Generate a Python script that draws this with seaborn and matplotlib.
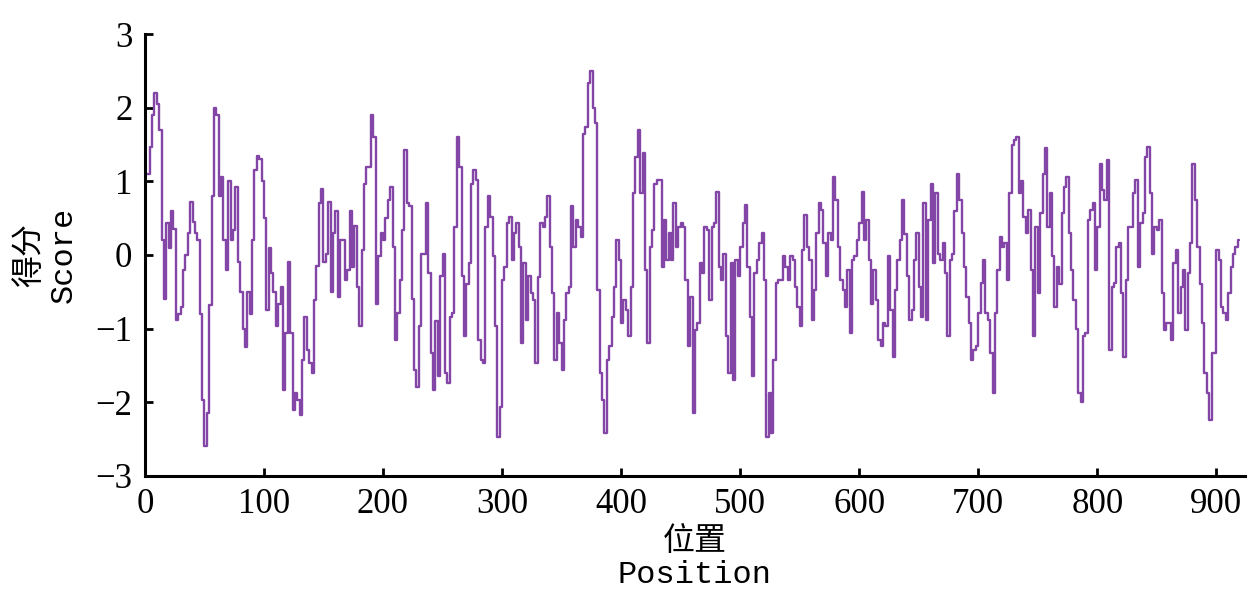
import numpy as np
import matplotlib
matplotlib.use('Agg')
import matplotlib.pyplot as plt
import seaborn as sns

# hydrophobicity score, every 2 residues (1, 3, 5, ... 919)
score_1_89 = [1.1, 1.1, 1.47, 1.9, 2.2, 2.05, 1.7, 0.2, -0.6, 0.43,
              0.1, 0.6, 0.35, -0.88, -0.8, -0.7, -0.2, 0, 0.3, 0.72,
              0.45, 0.3, 0.2, -0.8, -1.97, -2.6, -2.15, -0.68, 0.8, 2.0,
              1.9, 0.8, 1.06, 0.2, -0.2, 1.0, 0.2, 0.34, 0.93, -0.1,
              -0.5, -1.0, -1.25, -0.5, -0.8]
score_91_181 = [0.2, 1.15, 1.34, 1.3, 1.0, 0.5, -0.75, 0.1, -0.25, -0.5,
                -0.97, -0.66, -0.43, -1.83, -1.06, -0.1, -1.06, -2.1, -1.88, -1.97,
                -2.17, -1.43, -0.84, -1.29, -1.47, -1.6, -0.61, -0.15, 0.7, 0.9,
                -0.1, 0.02, 0.72, -0.5, 0.3, 0.6, -0.57, 0.2, 0.2, -0.34,
                -0.2, 0.6, -0.16, 0.4, -0.43, -0.97]
score_183_273 = [0.07, 0.97, 1.2, 1.2, 1.9, 1.6, -0.66, -0.02, 0.3, 0.2,
                 0.5, 0.75, 0.93, 0.11, -1.15, -0.79, -0.34, 0.34, 1.43, 0.7,
                 0.66, -0.6, -1.56, -1.79, -0.97, 0.02, 0.02, 0.7, -0.25, -1.33,
                 -1.83, -0.9, -1.65, -0.29, 0.02, -1.6, -1.74, -0.84, -0.79, 0.38,
                 1.6, 1.2, -0.29, -1.1, -0.4, -0.11]
score_275_365 = [0.97, 1.15, 1.02, -1.15, -1.43, -1.47, 0.38, 0.8, 0.52, -0.02,
                 -0.97, -2.47, -2.06, -0.34, -0.16, 0.43, 0.52, -0.07, 0.3, 0.43,
                 0.11, -1.2, -0.11, -0.88, -0.29, -0.52, -0.61, -1.47, -0.3, 0.43,
                 0.38, 0.52, 0.8, 0.11, -0.52, -1.43, -0.79, -1.2, -1.56, -0.88,
                 -0.52, -0.43, 0.66, 0.11, 0.47, 0.38]
score_367_457 = [0.25, 1.65, 1.74, 2.33, 2.5, 2.0, 1.79, -0.47, -1.6, -1.97,
                 -2.42, -1.43, -1.24, -0.84, -0.43, 0.2, -0.07, -0.93, -0.61, -0.75,
                 -1.1, -0.43, 0.84, 1.33, 1.7, 0.84, 1.38, -0.2, -1.2, 0.11,
                 0.34, 0.97, 1.02, 1.02, -0.16, 0.47, -0.07, 0.3, -0.07, 0.7,
                 0.11, 0.38, 0.43, 0.38, -0.34, -1.24]
score_459_551 = [-0.57, -2.15, -1.02, -0.93, -0.11, -0.25, 0.38, 0.34, -0.61, 0.38,
                 0.43, 0.86, -0.16, -0.34, 0.02, -1.1, -1.6, -0.11, -1.7, -0.07,
                 -0.29, 0.11, 0.43, 0.68, -0.16, -0.84, -1.65, -0.25, -0.07, 0.16,
                 0.3, -0.34, -2.47, -1.88, -2.42, -1.43, -0.38, -0.34, -0.34, -0.02,
                 -0.16, -0.34, -0.02, -0.07, -0.43, -0.7, -0.97]
score_553_643 = [0.07, 0.54, 0.11, -0.07, -0.88, -0.47, 0.3, 0.7, 0.61, 0.16,
                 -0.29, 0.3, 0.2, 1.06, 0.75, 0.11, -0.34, -0.47, -0.7, -0.2,
                 -1.06, -0.07, -0.02, 0.2, 0.43, 0.86, 0.2, 0.47, -0.07, -0.66,
                 -0.2, -0.61, -1.15, -1.24, -0.93, -0.97, -0.02, -0.75, -1.38, -0.47,
                 -0.07, 0.2, 0.75, 0.29, -0.29, -0.88]
score_645_735 = [-0.75, -0.07, 0.3, -0.43, -0.84, 0.7, -0.88, 0.47, 0.97, -0.11,
                 0.84, 0.02, -0.07, 0.16, -0.25, -1.1, -0.07, 0.02, 0.6, 1.1,
                 0.75, 0.3, -0.16, -0.57, -0.93, -1.43, -1.29, -1.24, -0.79, -0.38,
                 -0.07, -0.79, -0.88, -1.33, -1.88, -0.79, -0.2, 0.25, 0.11, 0.16,
                 -0.34, 0.84, 1.5, 1.56, 1.6, 0.84]
score_737_827 = [1.0, 0.52, 0.3, 0.61, -0.2, -1.1, 0.38, -0.52, 0.57, 1.1,
                 1.45, 0.38, 0.84, -0.02, -0.7, -0.16, -0.39, 0.57, 0.93, 1.06,
                 0.3, -0.2, -0.61, -1.0, -1.88, -2.0, -1.1, -1.06, 0.47, 0.61,
                 0.7, -0.2, 0.38, 1.24, 0.88, 0.75, 1.29, -1.29, -0.43, -0.38,
                 0.11, 0.16, -0.52, -1.38, -0.34, 0.38]
score_829_919 = [0.38, 0.84, 1.02, -0.16, 0.43, 0.57, 1.33, 1.47, 0.84, 0.02,
                 0.38, 0.34, 0.47, -0.52, -1.02, -0.93, -0.93, -1.15, -0.11, 0.07,
                 -0.79, -0.43, -0.2, -1.02, -0.25, 0.16, 1.24, 0.75, 0.11, -0.39,
                 -0.93, -1.6, -1.88, -2.24, -1.33, -1.33, 0.07, -0.07, -0.7, -0.79,
                 -0.88, -0.52, -0.16, 0.02, 0.11, 0.2]

score = (score_1_89 + score_91_181 + score_183_273 + score_275_365 + score_367_457
         + score_459_551 + score_553_643 + score_645_735 + score_737_827 + score_829_919)
position = np.arange(1, 2 * len(score), 2)

x_ticks = [0, 100, 200, 300, 400, 500, 600, 700, 800, 900]
y_ticks = [-3, -2, -1, 0, 1, 2, 3]

sns.set_style('ticks')
plt.rcParams['font.family'] = ['Liberation Serif', 'Noto Sans CJK SC']
plt.rcParams['axes.unicode_minus'] = True
plt.rcParams['text.color'] = 'black'
plt.rcParams['axes.labelcolor'] = 'black'
plt.rcParams['xtick.color'] = 'black'
plt.rcParams['ytick.color'] = 'black'

fig = plt.figure(figsize=(12.6, 6.1), dpi=100)
ax = fig.add_axes([0.115, 0.22, 0.873, 0.724])

sns.lineplot(x=position, y=score, ax=ax, drawstyle='steps-mid',
             color='#8446a6', linewidth=1.7)

ax.set_xlim(0, 924)
ax.set_ylim(-3, 3)
ax.set_xticks(x_ticks)
ax.set_yticks(y_ticks)
ax.tick_params(direction='in', length=6, width=2, labelsize=25, pad=9,
               color='black', labelcolor='black')
for s in ['top', 'right']:
    ax.spines[s].set_visible(False)
for s in ['left', 'bottom']:
    ax.spines[s].set_linewidth(2.2)
    ax.spines[s].set_color('black')

lab_font = ['Liberation Mono', 'Noto Sans CJK SC']
ax.set_xlabel('位置\nPosition', fontsize=23, family=lab_font, linespacing=1.15,
              labelpad=4, color='black')
ax.set_ylabel('得分\nScore', fontsize=23, family=lab_font, linespacing=1.15,
              labelpad=12, color='black')

fig.savefig('out.png', dpi=100, facecolor='white')
